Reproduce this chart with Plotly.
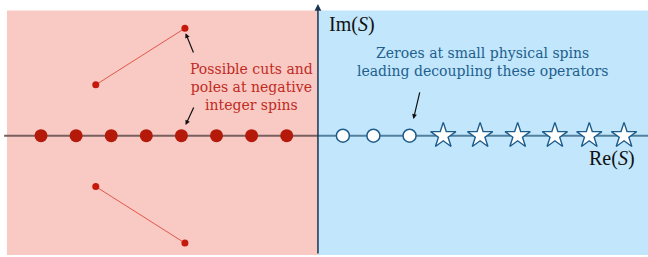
import plotly.graph_objects as go

# ---- data (in units of spin S) ----
neg_spins = [-8, -7, -6, -5, -4, -3, -2, -1]           # poles at negative integer spins
zero_spins = [0.6, 1.47, 2.5]                           # zeroes at small physical spins
star_spins = [3.46, 4.51, 5.58, 6.64, 7.62, 8.61]       # physical spins
cut_upper_x = [-6.44, -3.90]
cut_upper_y = [1.45, 3.06]
cut_lower_x = [-6.44, -3.90]
cut_lower_y = [-1.45, -3.06]

# region bounds
left_region = [-8.97, -0.11]
right_region = [-0.11, 9.4]
region_y = [-3.40, 3.57]
axis_x0 = -0.11
axis_left = -9.05
axis_top = 3.75

PINK = "#f9c9c4"
BLUE = "#c2e6fb"
RED_DOT = "#b5190a"
RED_TXT = "#c02b22"
BLUE_TXT = "#1d5f8e"
BLUE_EDGE = "#1c5c8c"

fig = go.Figure()

# cuts
for cx, cy in [(cut_upper_x, cut_upper_y), (cut_lower_x, cut_lower_y)]:
    fig.add_trace(go.Scatter(x=cx, y=cy, mode="lines+markers",
                             line=dict(color="#e2584a", width=1),
                             marker=dict(size=7, color="#c4190b"),
                             hoverinfo="skip", showlegend=False))

fig.add_trace(go.Scatter(x=neg_spins, y=[0] * len(neg_spins), mode="markers",
                         marker=dict(size=13, color=RED_DOT),
                         showlegend=False, hoverinfo="skip"))
fig.add_trace(go.Scatter(x=zero_spins, y=[0] * len(zero_spins), mode="markers",
                         marker=dict(size=13, color="white",
                                     line=dict(color=BLUE_EDGE, width=1.5)),
                         showlegend=False, hoverinfo="skip"))
fig.add_trace(go.Scatter(x=star_spins, y=[0] * len(star_spins), mode="markers",
                         marker=dict(size=19, symbol="star", color="white",
                                     line=dict(color=BLUE_EDGE, width=1.4)),
                         showlegend=False, hoverinfo="skip"))

shapes = [
    dict(type="rect", x0=left_region[0], x1=left_region[1], y0=region_y[0], y1=region_y[1],
         fillcolor=PINK, line=dict(width=0), layer="below"),
    dict(type="rect", x0=right_region[0], x1=right_region[1], y0=region_y[0], y1=region_y[1],
         fillcolor=BLUE, line=dict(width=0), layer="below"),
    dict(type="line", x0=axis_left, x1=axis_x0, y0=0, y1=0,
         line=dict(color="#7a5f5f", width=2), layer="below"),
    dict(type="line", x0=axis_x0, x1=right_region[1], y0=0, y1=0,
         line=dict(color="#52809f", width=2), layer="below"),
]
fig.update_layout(shapes=shapes)

# vertical axis with arrow
fig.add_annotation(x=axis_x0, y=axis_top, ax=axis_x0, ay=region_y[0],
                   xref="x", yref="y", axref="x", ayref="y", text="",
                   showarrow=True, arrowhead=2, arrowsize=0.9, arrowwidth=1.5,
                   arrowcolor="#1a3550")

# labels
fig.add_annotation(x=0.87, y=3.18, xref="x", yref="y", text="Im(<i>S</i>)",
                   showarrow=False, font=dict(family="Liberation Serif", size=20, color="#111"))
fig.add_annotation(x=8.28, y=-0.66, xref="x", yref="y", text="Re(<i>S</i>)",
                   showarrow=False, font=dict(family="Liberation Serif", size=20, color="#111"))

fig.add_annotation(x=-2.01, y=1.38, xref="x", yref="y",
                   text="Possible cuts and<br>poles at negative<br>integer spins",
                   showarrow=False, align="center",
                   font=dict(family="DejaVu Serif", size=14, color=RED_TXT))
fig.add_annotation(x=4.57, y=2.1, xref="x", yref="y",
                   text="Zeroes at small physical spins<br>leading decoupling these operators",
                   showarrow=False, align="center",
                   font=dict(family="DejaVu Serif", size=14, color=BLUE_TXT))

# pointer arrows
for hx, hy, tx, ty in [(-3.88, 2.92, -3.64, 2.33), (-3.88, 0.305, -3.63, 0.846),
                       (2.61, 0.476, 2.80, 1.28)]:
    fig.add_annotation(x=hx, y=hy, ax=tx, ay=ty, xref="x", yref="y", axref="x", ayref="y",
                       text="", showarrow=True, arrowhead=2, arrowsize=0.8,
                       arrowwidth=1.2, arrowcolor="#111")

fig.update_layout(
    width=648, height=257, autosize=False,
    margin=dict(l=0, r=0, t=0, b=0),
    paper_bgcolor="white", plot_bgcolor="white",
    xaxis=dict(range=[-9.168, 9.293], visible=False, fixedrange=True),
    yaxis=dict(range=[-3.456, 3.866], visible=False, fixedrange=True),
)

fig.write_html("out.html", config={"displayModeBar": False},
               post_script="document.body.style.margin='0';")
